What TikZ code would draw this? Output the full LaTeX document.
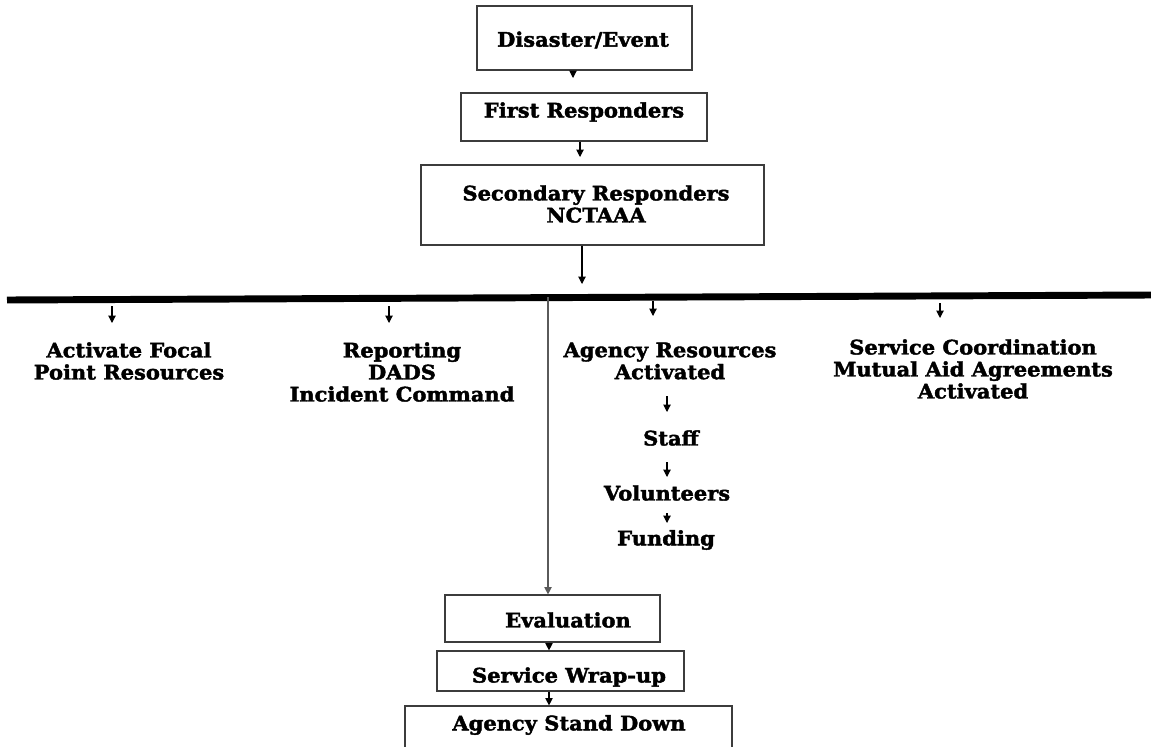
\documentclass[tikz,border=0pt]{standalone}
\usepackage{fontspec}
\setmainfont{DejaVu Serif}
\newfontfamily\slabfont{DejaVu Serif Bold}[FakeStretch=1.05, FakeBold=2]
\usetikzlibrary{arrows.meta,fit}
\definecolor{boxgray}{RGB}{60,60,60}
\definecolor{linegray}{RGB}{90,90,90}
\begin{document}
\begin{tikzpicture}[x=0.75pt,y=-0.75pt,
  box/.style={draw=boxgray, line width=0.9pt, inner sep=0pt},
  lbl/.style={font=\slabfont\fontsize{15}{16.5}\selectfont, align=center, inner sep=0pt, text=black},
  arr/.style={draw=black, line width=0.8pt, -{Triangle[length=5.5pt,width=5.5pt]}},
  vline/.style={draw=linegray, line width=0.9pt, -{Triangle[length=5.5pt,width=5.5pt]}}]
\useasboundingbox (0,0) rectangle (1151,746);
\clip (0,0) rectangle (1151,746);
\fill[white] (0,0) rectangle (1151,746);

% boxes
\node[box, fit={(477,6) (692,70)}] (b1) {};
\node[box, fit={(461,93) (707,141)}] (b2) {};
\node[box, fit={(421,165) (764,245)}] (b3) {};
\node[box, fit={(445,595) (660,642)}] (b4) {};
\node[box, fit={(437,651) (684,691)}] (b5) {};
\node[box, fit={(405,706) (732,770)}] (b6) {};

% box labels
\node[lbl] (t1) at (583,40) {Disaster/Event};
\node[lbl] (t2) at (584,112) {First Responders};
\node[lbl] (t3) at (596,204) {Secondary Responders\\NCTAAA};
\node[lbl] (t4) at (568,620) {Evaluation};
\node[lbl] (t5) at (569,677) {Service Wrap-up};
\node[lbl] (t6) at (569,725) {Agency Stand Down};

% thick bar
\coordinate (barL) at (7,300);
\coordinate (barR) at (1151,295);
\draw[line width=5.2pt, black] (barL) -- (barR);

% top connectors
\coordinate (a1) at (573,78);
\coordinate (a2) at (580,157);
\coordinate (a3) at (582,284);
\draw[arr] (a1 |- b1.south) -- (a1);
\draw[arr] (a2 |- b2.south) -- (a2);
\draw[arr] (a3 |- b3.south) -- (a3);

% branch arrows under bar
\coordinate (s1) at (112,306); \coordinate (e1) at (112,323);
\coordinate (s2) at (389,306); \coordinate (e2) at (389,323);
\coordinate (s3) at (653,301); \coordinate (e3) at (653,316);
\coordinate (s4) at (940,303); \coordinate (e4) at (940,318);
\draw[arr] (s1) -- (e1);
\draw[arr] (s2) -- (e2);
\draw[arr] (s3) -- (e3);
\draw[arr] (s4) -- (e4);

% branch labels
\node[lbl] (c1) at (129,361) {Activate Focal\\Point Resources};
\node[lbl] (c2) at (402,372) {Reporting\\DADS\\Incident Command};
\node[lbl] (c3) at (670,361) {Agency Resources\\Activated};
\node[lbl] (c4) at (973,369) {Service Coordination\\Mutual Aid Agreements\\Activated};

% agency resources chain
\coordinate (r1s) at (667,396); \coordinate (r1e) at (667,412);
\node[lbl] (staff) at (671,438) {Staff};
\coordinate (r2s) at (667,462); \coordinate (r2e) at (667,477);
\node[lbl] (vol) at (667,493) {Volunteers};
\coordinate (r3s) at (667,513); \coordinate (r3e) at (667,523);
\node[lbl] (fund) at (666,540) {Funding};
\draw[arr] (r1s) -- (r1e);
\draw[arr] (r2s) -- (r2e);
\draw[arr] (r3s) -- (r3e);

% long vertical line to evaluation
\coordinate (vtop) at (548,297);
\draw[vline] (vtop) -- (vtop |- b4.north);

% bottom chain
\coordinate (vx) at (549,0);
\draw[arr] (vx |- b4.south) -- (vx |- b5.north);
\draw[arr] (vx |- b5.south) -- (vx |- b6.north);
\end{tikzpicture}
\end{document}
